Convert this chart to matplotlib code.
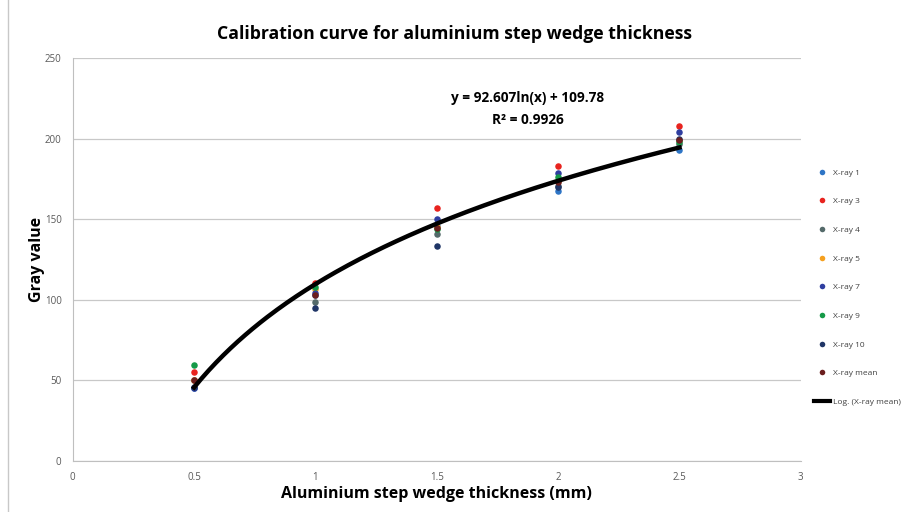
import numpy as np
import matplotlib.pyplot as plt
from matplotlib.lines import Line2D

plt.rcParams['font.family'] = ['Open Sans', 'DejaVu Sans']

# step wedge thickness (mm)
thickness = [0.5, 1.0, 1.5, 2.0, 2.5]

# gray values
xray_1 = [45.0, 103.0, 146.0, 167.5, 193.0]
xray_3 = [55.0, 110.5, 157.0, 183.0, 208.0]
xray_4 = [50.0, 98.5, 141.0, 171.0, 197.0]
xray_5 = [50.0, 107.0, 145.0, 174.0, 199.0]
xray_7 = [45.5, 104.0, 150.0, 179.0, 204.0]
xray_9 = [59.5, 108.0, 144.0, 176.0, 198.0]
xray_10 = [46.0, 95.0, 133.5, 170.0, 200.0]
xray_mean = [50.0, 103.0, 144.7, 173.5, 199.5]

series_names = ['X-ray 1', 'X-ray 3', 'X-ray 4', 'X-ray 5', 'X-ray 7', 'X-ray 9', 'X-ray 10', 'X-ray mean']
series_colors = ['#2E75C6', '#E8231E', '#546A6A', '#F5A01F', '#2F3EA0', '#159A48', '#1F3566', '#6B1E1E']

# logarithmic trendline coefficients
fit_a = 92.607
fit_b = 109.78
fit_r2 = 0.9926

x_ticks = [0, 0.5, 1, 1.5, 2, 2.5, 3]
x_ticklabels = ['0', '0.5', '1', '1.5', '2', '2.5', '3']
y_ticks = [0, 50, 100, 150, 200, 250]

fig = plt.figure(figsize=(9.09, 5.12), dpi=100)
ax = fig.add_axes([0.080, 0.100, 0.801, 0.786])

all_series = [xray_1, xray_3, xray_4, xray_5, xray_7, xray_9, xray_10, xray_mean]
for vals, name, col in zip(all_series, series_names, series_colors):
    ax.scatter(thickness, vals, s=22, color=col, label=name, zorder=3, linewidths=0)

xs = np.linspace(0.5, 2.5, 200)
ax.plot(xs, fit_a * np.log(xs) + fit_b, color='black', lw=3.2, zorder=4,
        label='Log. (X-ray mean)')

ax.set_xlim(0, 3)
ax.set_ylim(0, 250)
ax.set_xticks(x_ticks)
ax.set_xticklabels(x_ticklabels)
ax.set_yticks(y_ticks)
ax.tick_params(axis='both', length=0, labelsize=7, colors='#595959', pad=8)
ax.grid(axis='y', color='#C8C8C8', lw=0.9)
ax.set_axisbelow(True)
for side in ['top', 'right']:
    ax.spines[side].set_visible(False)
for side in ['left', 'bottom']:
    ax.spines[side].set_color('#BFBFBF')

ax.set_xlabel('Aluminium step wedge thickness (mm)', fontsize=11.5, fontweight='bold', labelpad=2)
ax.set_ylabel('Gray value', fontsize=11.5, fontweight='bold', labelpad=0)
fig.text(0.50, 0.933, 'Calibration curve for aluminium step wedge thickness',
         ha='center', va='center', fontsize=12.7, fontweight='bold')

ax.text(1.875, 218.5, 'y = %.3fln(x) + %.2f\nR² = %.4f' % (fit_a, fit_b, fit_r2),
        ha='center', va='center', fontsize=9.8, fontweight='bold', linespacing=1.75)

handles = [Line2D([], [], ls='none', marker='o', markersize=4, markeredgewidth=0, color=c)
           for c in series_colors]
handles.append(Line2D([], [], color='black', lw=3))
fig.legend(handles, series_names + ['Log. (X-ray mean)'], loc='upper left',
           bbox_to_anchor=(0.887, 0.685), frameon=False, fontsize=6,
           labelspacing=2.5, handlelength=2.0, handletextpad=0.3,
           labelcolor='#404040')

fig.add_artist(Line2D([0.009, 0.009], [0, 1], transform=fig.transFigure, color='#C8C8C8', lw=1))

fig.savefig('out.png', dpi=100)
